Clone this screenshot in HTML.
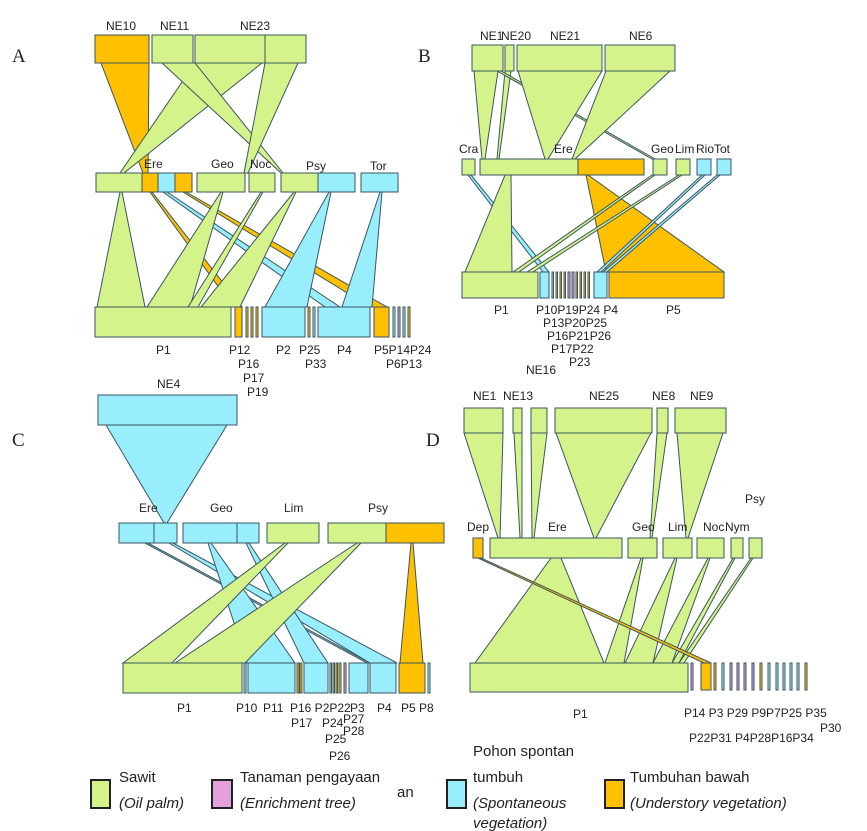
<!DOCTYPE html>
<html><head><meta charset="utf-8"><style>
body{margin:0;background:#fff}
svg{display:block}
text{font-family:"Liberation Sans",sans-serif;font-size:12px;fill:#222}
.s{font-family:"Liberation Serif",serif;font-size:19px}
.g{fill:#d4f38a}.c{fill:#98eefc}.o{fill:#ffc000}.p{fill:#e2a0dc}
rect,polygon{stroke:#3a5560;stroke-width:1}
.lg{font-size:15px}
</style></head><body>
<svg width="867" height="831" viewBox="0 0 867 831" xmlns="http://www.w3.org/2000/svg">
<text class="s" x="12" y="62">A</text><text class="s" x="418" y="62">B</text>
<text class="s" x="12" y="446">C</text><text class="s" x="426" y="446">D</text>

<!-- Panel A -->
<polygon class="o" points="101,63 149,63 148,173 143,173"/>
<polygon class="g" points="195,63 262,63 124,173 120,173"/>
<polygon class="g" points="162,63 195,63 283,173 281,173"/>
<polygon class="g" points="265,63 298,63 248,173 244,173"/>
<rect class="o" x="95" y="35" width="54" height="28"/>
<rect class="g" x="152" y="35" width="41" height="28"/>
<rect class="g" x="195" y="35" width="70" height="28"/>
<rect class="g" x="265" y="35" width="41" height="28"/>
<text x="106" y="30" font-size="13">NE10</text><text x="160" y="30" font-size="10">NE11</text><text x="240" y="30" font-size="10">NE23</text>
<polygon class="g" points="120,192 122,192 145,307 97,307"/>
<polygon class="o" points="150,192 152,192 242,307 233,307"/>
<polygon class="c" points="163,192 167,192 340,307 325,307"/>
<polygon class="o" points="183,192 186,192 387,307 370,307"/>
<polygon class="g" points="221,192 223,192 190,307 147,307"/>
<polygon class="g" points="261,192 263,192 198,307 188,307"/>
<polygon class="g" points="294,192 296,192 240,307 201,307"/>
<polygon class="c" points="329,192 331,192 307,307 265,307"/>
<polygon class="c" points="380,192 382,192 372,307 342,307"/>
<rect class="g" x="96" y="173" width="46" height="19"/><rect class="o" x="142" y="173" width="16" height="19"/><rect class="c" x="158" y="173" width="17" height="19"/><rect class="o" x="175" y="173" width="17" height="19"/>
<rect class="g" x="197" y="173" width="48" height="19"/><rect class="g" x="249" y="173" width="26" height="19"/>
<rect class="g" x="281" y="173" width="37" height="19"/><rect class="c" x="318" y="173" width="37" height="19"/><rect class="c" x="361" y="173" width="37" height="19"/>
<text x="144" y="168">Ere</text><text x="211" y="168">Geo</text><text x="250" y="168">Noc</text><text x="306" y="170">Psy</text><text x="370" y="170">Tor</text>
<rect class="g" x="95" y="307" width="136" height="30"/><rect class="o" x="235" y="307" width="7" height="30"/>
<rect class="o" x="246" y="307" width="2" height="30"/><rect class="o" x="251" y="307" width="2" height="30"/><rect class="o" x="256" y="307" width="2" height="30"/>
<rect class="c" x="262" y="307" width="43" height="30"/><rect class="o" x="308" y="307" width="2" height="30"/><rect class="c" x="313" y="307" width="2" height="30"/>
<rect class="c" x="318" y="307" width="52" height="30"/><rect class="o" x="374" y="307" width="15" height="30"/>
<rect class="c" x="393" y="307" width="2" height="30"/><rect class="p" x="398" y="307" width="2" height="30"/><rect class="c" x="403" y="307" width="2" height="30"/><rect class="o" x="408" y="307" width="2" height="30"/>
<text x="156" y="354">P1</text><text x="229" y="354">P12</text><text x="238" y="368">P16</text><text x="243" y="382">P17</text><text x="247" y="396">P19</text>
<text x="276" y="354">P2</text><text x="299" y="354">P25</text><text x="305" y="368">P33</text><text x="337" y="354">P4</text>
<text x="374" y="354">P5P14P24</text><text x="386" y="368">P6P13</text>

<!-- Panel B -->
<polygon class="g" points="474,71 498,71 485,159 482,159"/>
<polygon class="g" points="505,71 511,71 499,159 497,159"/>
<polygon class="g" points="497,71 501,71 655,159 652,159"/>
<polygon class="g" points="518,71 602,71 548,159 545,159"/>
<polygon class="g" points="606,71 670,71 575,159 572,159"/>
<rect class="g" x="472" y="45" width="31" height="26"/><rect class="g" x="505" y="45" width="9" height="26"/><rect class="g" x="517" y="45" width="85" height="26"/><rect class="g" x="605" y="45" width="70" height="26"/>
<text x="480" y="40" font-size="10">NE1</text><text x="501" y="40" font-size="10">NE20</text><text x="550" y="40" font-size="10">NE21</text><text x="629" y="40" font-size="10">NE6</text>
<polygon class="c" points="468,175 471,175 549,272 543,272"/>
<polygon class="g" points="505,175 511,175 512,272 465,272"/>
<polygon class="o" points="586,175 588,175 724,272 606,272"/>
<polygon class="g" points="652,175 655,175 519,272 513,272"/>
<polygon class="g" points="679,175 682,175 533,272 527,272"/>
<polygon class="c" points="702,175 705,175 601,272 597,272"/>
<polygon class="c" points="717,175 720,175 607,272 603,272"/>
<rect class="g" x="462" y="159" width="13" height="16"/><rect class="g" x="480" y="159" width="98" height="16"/><rect class="o" x="578" y="159" width="66" height="16"/>
<rect class="g" x="653" y="159" width="14" height="16"/><rect class="g" x="676" y="159" width="14" height="16"/><rect class="c" x="697" y="159" width="14" height="16"/><rect class="c" x="717" y="159" width="14" height="16"/>
<text x="459" y="153" font-size="11">Cra</text><text x="554" y="153" font-size="11">Ere</text><text x="651" y="153" font-size="11">Geo</text><text x="675" y="153" font-size="11">Lim</text><text x="696" y="153" font-size="11">Rio</text><text x="714" y="153" font-size="11">Tot</text>
<rect class="g" x="462" y="272" width="76" height="26"/><rect class="c" x="540" y="272" width="9" height="26"/>
<rect class="c" x="552" y="272" width="1.5" height="26"/><rect class="o" x="556" y="272" width="1.5" height="26"/><rect class="o" x="560" y="272" width="1.5" height="26"/><rect class="o" x="564" y="272" width="1.5" height="26"/><rect class="p" x="568" y="272" width="2" height="26"/><rect class="p" x="572" y="272" width="2" height="26"/><rect class="o" x="576" y="272" width="1.5" height="26"/><rect class="o" x="580" y="272" width="1.5" height="26"/><rect class="o" x="584" y="272" width="1.5" height="26"/><rect class="o" x="588" y="272" width="1.5" height="26"/>
<rect class="c" x="594" y="272" width="13" height="26"/><rect class="o" x="609" y="272" width="115" height="26"/>
<text x="494" y="314" font-size="11">P1</text><text x="536" y="314" font-size="11">P10P19P24 P4</text><text x="543" y="327" font-size="11">P13P20P25</text><text x="547" y="340" font-size="11">P16P21P26</text><text x="551" y="353" font-size="11">P17P22</text><text x="569" y="366" font-size="11">P23</text><text x="526" y="374" font-size="12">NE16</text>
<text x="666" y="314" font-size="11">P5</text>

<!-- Panel C -->
<polygon class="c" points="106,425 227,425 167,523 164,523"/>
<rect class="c" x="98" y="395" width="139" height="30"/>
<text x="157" y="388">NE4</text>
<polygon class="c" points="145,543 148,543 370,663 367,663"/>
<polygon class="c" points="169,543 173,543 397,663 370,663"/>
<polygon class="c" points="208,543 211,543 295,663 247,663"/>
<polygon class="c" points="246,543 249,543 328,663 304,663"/>
<polygon class="g" points="285,543 288,543 172,663 123,663"/>
<polygon class="g" points="357,543 361,543 245,663 175,663"/>
<polygon class="o" points="411,543 413,543 423,663 400,663"/>
<rect class="c" x="119" y="523" width="35" height="20"/><rect class="c" x="154" y="523" width="23" height="20"/>
<rect class="c" x="183" y="523" width="54" height="20"/><rect class="c" x="237" y="523" width="22" height="20"/>
<rect class="g" x="267" y="523" width="52" height="20"/><rect class="g" x="328" y="523" width="58" height="20"/><rect class="o" x="386" y="523" width="58" height="20"/>
<text x="139" y="512" font-size="11">Ere</text><text x="210" y="512" font-size="11">Geo</text><text x="284" y="512" font-size="11">Lim</text><text x="368" y="512" font-size="11">Psy</text>
<rect class="g" x="123" y="663" width="119" height="30"/><rect class="c" x="244" y="663" width="2" height="30"/><rect class="c" x="248" y="663" width="47" height="30"/>
<rect class="o" x="297" y="663" width="2" height="30"/><rect class="o" x="300" y="663" width="2" height="30"/><rect class="c" x="304" y="663" width="24" height="30"/>
<rect class="c" x="330" y="663" width="1.5" height="30"/><rect class="o" x="333" y="663" width="1.5" height="30"/><rect class="o" x="336" y="663" width="1.5" height="30"/><rect class="o" x="339" y="663" width="2" height="30"/><rect class="p" x="344" y="663" width="2" height="30"/>
<rect class="c" x="349" y="663" width="19" height="30"/><rect class="c" x="370" y="663" width="26" height="30"/><rect class="o" x="399" y="663" width="26" height="30"/><rect class="c" x="428" y="663" width="2" height="30"/>
<g font-size="11"><text x="177" y="712" font-size="11">P1</text><text x="236" y="712" font-size="11">P10</text><text x="263" y="712" font-size="11">P11</text><text x="290" y="712" font-size="11">P16 P2P22</text><text x="350" y="712" font-size="11">P3</text><text x="377" y="712" font-size="11">P4</text><text x="401" y="712" font-size="11">P5 P8</text>
<text x="291" y="727" font-size="11">P17</text><text x="322" y="727" font-size="11">P24</text><text x="343" y="723" font-size="11">P27</text><text x="343" y="735" font-size="11">P28</text><text x="325" y="743" font-size="11">P25</text><text x="329" y="760" font-size="11">P26</text></g>

<!-- Panel D -->
<polygon class="g" points="464,433 503,433 500,538 498,538"/>
<polygon class="g" points="514,433 522,433 522,538 520,538"/>
<polygon class="g" points="531,433 547,433 534,538 532,538"/>
<polygon class="g" points="556,433 651,433 596,538 594,538"/>
<polygon class="g" points="657,433 667,433 652,538 650,538"/>
<polygon class="g" points="677,433 723,433 688,538 686,538"/>
<rect class="g" x="464" y="408" width="39" height="25"/><rect class="g" x="513" y="408" width="9" height="25"/><rect class="g" x="531" y="408" width="16" height="25"/><rect class="g" x="555" y="408" width="97" height="25"/><rect class="g" x="657" y="408" width="11" height="25"/><rect class="g" x="675" y="408" width="51" height="25"/>
<text x="473" y="400">NE1</text><text x="503" y="400">NE13</text><text x="589" y="400">NE25</text><text x="652" y="400">NE8</text><text x="690" y="400">NE9</text>
<text x="745" y="503">Psy</text>
<polygon class="g" points="551,558 561,558 604,663 475,663"/>
<polygon class="g" points="641,558 643,558 624,663 605,663"/>
<polygon class="g" points="675,558 677,558 653,663 625,663"/>
<polygon class="g" points="708,558 710,558 672,663 653,663"/>
<polygon class="g" points="733,558 735,558 679,663 672,663"/>
<polygon class="g" points="751,558 753,558 684,663 679,663"/>
<polygon class="o" points="478,558 481,558 711,663 704,663"/>
<rect class="o" x="473" y="538" width="10" height="20"/><rect class="g" x="490" y="538" width="132" height="20"/><rect class="g" x="628" y="538" width="29" height="20"/><rect class="g" x="663" y="538" width="29" height="20"/><rect class="g" x="697" y="538" width="27" height="20"/><rect class="g" x="731" y="538" width="12" height="20"/><rect class="g" x="749" y="538" width="13" height="20"/>
<text x="467" y="531">Dep</text><text x="548" y="531">Ere</text><text x="632" y="531">Geo</text><text x="668" y="531">Lim</text><text x="703" y="531">Noc</text><text x="725" y="531">Nym</text>
<rect class="g" x="470" y="663" width="218" height="29"/><rect class="p" x="691" y="663" width="2" height="27"/><rect class="o" x="701" y="663" width="10" height="27"/><rect class="o" x="714" y="663" width="2" height="27"/>
<rect class="c" x="722" y="663" width="2" height="27"/><rect class="p" x="730" y="663" width="2" height="27"/><rect class="p" x="737" y="663" width="2" height="27"/><rect class="p" x="744" y="663" width="2" height="27"/><rect class="p" x="752" y="663" width="2" height="27"/><rect class="o" x="760" y="663" width="2" height="27"/><rect class="c" x="768" y="663" width="2" height="27"/><rect class="c" x="776" y="663" width="2" height="27"/><rect class="c" x="783" y="663" width="2" height="27"/><rect class="c" x="790" y="663" width="2" height="27"/><rect class="c" x="797" y="663" width="2" height="27"/><rect class="o" x="805" y="663" width="2" height="27"/>
<text x="573" y="718">P1</text><text x="684" y="717">P14 P3 P29 P9P7P25 P35</text><text x="820" y="732">P30</text><text x="689" y="742">P22P31 P4P28P16P34</text>

<!-- Legend -->
<rect class="g" x="91" y="780" width="19" height="28" style="stroke:#222;stroke-width:2"/>
<rect class="p" x="212" y="780" width="20" height="28" style="stroke:#222;stroke-width:2"/>
<rect class="c" x="447" y="780" width="19" height="28" style="stroke:#222;stroke-width:2"/>
<rect class="o" x="605" y="780" width="19" height="28" style="stroke:#222;stroke-width:2"/>
<text class="lg" x="119" y="782">Sawit</text><text class="lg" x="119" y="808" font-style="italic">(Oil palm)</text>
<text class="lg" x="240" y="782">Tanaman pengayaan</text><text class="lg" x="240" y="808" font-style="italic">(Enrichment tree)</text><text class="lg" x="397" y="797">an</text>
<text class="lg" x="473" y="756">Pohon spontan</text><text class="lg" x="473" y="782">tumbuh</text><text class="lg" x="473" y="808" font-style="italic">(Spontaneous</text><text class="lg" x="473" y="828" font-style="italic">vegetation)</text>
<text class="lg" x="630" y="782">Tumbuhan bawah</text><text class="lg" x="630" y="808" font-style="italic">(Understory vegetation)</text>
</svg>
</body></html>
